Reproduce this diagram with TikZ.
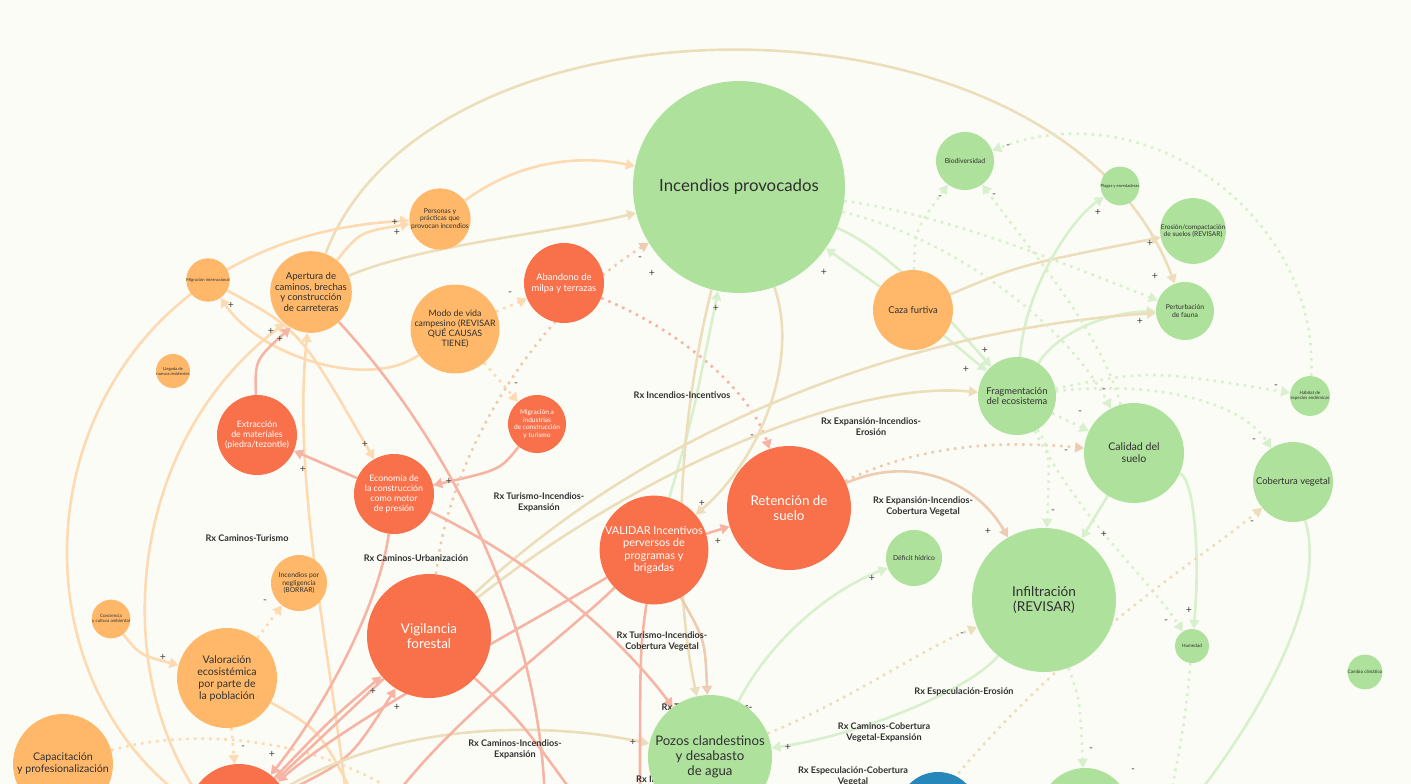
\documentclass[tikz,border=0pt]{standalone}
\usepackage{fontspec}
\setmainfont{Lato}
\usetikzlibrary{arrows.meta}
\pgfdeclarelayer{bglayer}
\pgfdeclarelayer{edges}
\pgfdeclarelayer{labels}
\pgfsetlayers{bglayer,edges,labels,main}
\definecolor{bg}{HTML}{FCFCF7}
\definecolor{gfill}{HTML}{AEE19B}
\definecolor{ofill}{HTML}{FFB869}
\definecolor{rfill}{HTML}{F9714A}
\definecolor{bfill}{HTML}{2688BA}
\definecolor{txt}{HTML}{303030}
\definecolor{ge}{HTML}{D8F0CD}
\definecolor{oe}{HTML}{FDDAB2}
\definecolor{re}{HTML}{F6B5A4}
\definecolor{te}{HTML}{EDDEBB}
\definecolor{rge}{HTML}{EDCCB2}
\definecolor{signc}{HTML}{444444}
\newcommand{\myfs}[2]{\fontsize{#1}{#2}\selectfont}
\begin{document}
\begin{tikzpicture}[x=1pt,y=-1pt,
  nd/.style={circle, inner sep=0pt, align=center, text=txt},
  gnode/.style={nd, fill=gfill},
  onode/.style={nd, fill=ofill},
  rnode/.style={nd, fill=rfill, text=white},
  E/.style={line width=2.6pt, -{Triangle[length=9pt,width=10pt]}},
  D/.style={E, dash pattern=on 2.6pt off 5pt},
  sg/.style={font=\myfs{10.5}{10.5}, text=signc, inner sep=0pt},
  rx/.style={font=\bfseries\myfs{9.1}{11}, align=center, text=txt, inner sep=0pt}]
\begin{pgfonlayer}{bglayer}
\fill[bg] (0,0) rectangle (1411,784);
\end{pgfonlayer}
\useasboundingbox (0,0) rectangle (1411,784);
\clip (0,0) rectangle (1411,784);

% ---------- nodes
% green
\node[gnode, minimum size=212pt, font=\myfs{16.8}{20}] (ip) at (739,187) {Incendios provocados};
\node[gnode, minimum size=58pt, font=\myfs{6.8}{8}] (bio) at (965,161) {Biodiversidad};
\node[gnode, minimum size=34pt, font=\myfs{4.2}{5}] (pla) at (1120,186) {Plagas y enredaderas};
\node[gnode, minimum size=56pt, font=\myfs{6.6}{7.6}] (ero) at (1193,231) {Erosión/compactación\\de suelos (REVISAR)};
\node[gnode, minimum size=58pt, font=\myfs{6.8}{8}] (per) at (1185,311) {Perturbación\\de fauna};
\node[gnode, minimum size=34pt, font=\myfs{4.5}{5.4}] (hab) at (1310,396) {Hábitat de\\especies endémicas};
\node[gnode, minimum size=78pt, font=\myfs{9.4}{10.5}] (fra) at (1017,396) {Fragmentación\\del ecosistema};
\node[gnode, minimum size=100pt, font=\myfs{10.6}{12}] (cal) at (1134,453) {Calidad del\\suelo};
\node[gnode, minimum size=80pt, font=\myfs{9.4}{11}] (cob) at (1293,482) {Cobertura vegetal};
\node[gnode, minimum size=144pt, font=\myfs{13.6}{15}] (inf) at (1044,600) {Infiltración\\(REVISAR)};
\node[gnode, minimum size=56pt, font=\myfs{6.8}{8}] (def) at (914,558) {Déficit hídrico};
\node[gnode, minimum size=34pt, font=\myfs{4.6}{5.5}] (hum) at (1192,646) {Humedad};
\node[gnode, minimum size=34pt, font=\myfs{4.6}{5.5}] (cc) at (1365,672) {Cambio climático};
\node[gnode, minimum size=124pt, font=\myfs{13.2}{15}] (poz) at (710,757) {Pozos clandestinos\\y desabasto\\de agua};
\node[gnode, minimum size=90pt] (gb) at (1085,813) {};
\node[nd, fill=bfill, minimum size=80pt] (blu) at (938,812) {};
% orange
\node[onode, minimum size=80pt, font=\myfs{9.4}{10.5}] (caz) at (913,310) {Caza furtiva};
\node[onode, minimum size=58pt, font=\myfs{6.8}{7.6}] (pers) at (440,219) {Personas y\\prácticas que\\provocan incendios};
\node[onode, minimum size=80pt, font=\myfs{9.6}{10.8}] (ape) at (311,292) {Apertura de\\caminos, brechas\\y construcción\\de carreteras};
\node[onode, minimum size=80pt, font=\myfs{8.8}{9.8}] (mod) at (455,329) {Modo de vida\\campesino (REVISAR\\QUÉ CAUSAS\\TIENE)};
\node[onode, minimum size=34pt, font=\myfs{4.2}{5}] (mint) at (208,280) {Migración internacional};
\node[onode, minimum size=34pt, font=\myfs{4.2}{5}] (lle) at (173,371) {Llegada de\\nuevos residentes};
\node[onode, minimum size=56pt, font=\myfs{6.8}{7.6}] (neg) at (299,583) {Incendios por\\negligencia\\(BORRAR)};
\node[onode, minimum size=34pt, font=\myfs{4.5}{5.4}] (con) at (111,619) {Conciencia\\y cultura ambiental};
\node[onode, minimum size=100pt, font=\myfs{10.6}{12}] (valo) at (227,678) {Valoración\\ecosistémica\\por parte de\\la población};
\node[onode, minimum size=100pt, font=\myfs{10.6}{12}] (cap) at (63,764) {Capacitación\\y profesionalización};
% red
\node[rnode, minimum size=124pt, font=\myfs{13.4}{15}] (ret) at (789,508) {Retención de\\suelo};
\node[rnode, minimum size=102pt, font=\myfs{11}{12.6}] (val) at (654,550) {VALIDAR Incentivos\\perversos de\\programas y\\brigadas};
\node[rnode, minimum size=124pt, font=\myfs{13.4}{15}] (vig) at (429,636) {Vigilancia\\forestal};
\node[rnode, minimum size=80pt, font=\myfs{9.4}{11}] (aba) at (564,283) {Abandono de\\milpa y terrazas};
\node[rnode, minimum size=58pt, font=\myfs{6.6}{7.6}] (mig) at (537,424) {Migración a\\industrias\\de construcción\\y turismo};
\node[rnode, minimum size=80pt, font=\myfs{8.8}{9.8}] (eco) at (394,494) {Economía de\\la construcción\\como motor\\de presión};
\node[rnode, minimum size=80pt, font=\myfs{8.8}{9.8}] (ext) at (257,435) {Extracción\\de materiales\\(piedra/tezontle)};
\node[rnode, minimum size=102pt] (rb) at (239,815) {};

% ---------- coordinates off canvas
\coordinate (o3) at (420,810);
\coordinate (o4) at (1185,810);
\coordinate (o5) at (1168,810);
\coordinate (o6) at (925,815);
\coordinate (o7) at (585,810);
\coordinate (o8) at (545,810);
\coordinate (o9) at (385,810);
\coordinate (o10) at (640,815);
\coordinate (o11) at (348,812);
\coordinate (o12) at (362,812);

% ---------- edges
\begin{pgfonlayer}{edges}
% top big arc
\draw[E, draw=te] (ape) .. controls (430,-22) and (1060,-22) .. (per);
% left arcs
\draw[E, draw=oe] (rb.165) .. controls (-25,650) and (40,240) .. (pers);
\draw[E, draw=oe] (rb.150) .. controls (110,660) and (130,440) .. (ape.230);
\draw[E, draw=oe] (o11) .. controls (330,650) and (292,480) .. (ape.265);
\draw[E, draw=oe] (ape) .. controls (360,232) .. (pers);
\draw[E, draw=oe] (pers) .. controls (520,160) and (580,155) .. (ip);
\draw[E, draw=te] (ape) .. controls (420,245) and (560,232) .. (ip);
\draw[E, draw=oe] (mint) .. controls (300,330) .. (eco);
\draw[E, draw=oe] (mod) .. controls (370,390) and (262,358) .. (mint);
\draw[E, draw=re] (ext) .. controls (255,360) .. (ape.240);
\draw[E, draw=re] (eco) -- (ext);
\draw[E, draw=re] (mig) .. controls (500,470) .. (eco);
\draw[D, draw=oe] (mod) -- (aba);
\draw[D, draw=oe] (mod) -- (mig);
\draw[D, draw=re] (aba) .. controls (680,330) and (750,390) .. (ret);
\draw[D, draw=rge] (vig) .. controls (450,450) and (540,310) .. (ip);
\draw[E, draw=re] (val) -- (ret);
\draw[E, draw=ge] (val) .. controls (692,420) .. (ip);
\draw[E, draw=te] (ip) .. controls (800,360) and (760,460) .. (val);
\draw[E, draw=te] (ip.255) .. controls (672,450) and (676,600) .. (poz);
\draw[E, draw=rge] (val) .. controls (705,640) .. (poz);
\draw[E, draw=rge] (ret) .. controls (910,455) and (975,480) .. (inf);
\draw[D, draw=rge] (ret) .. controls (920,445) and (1000,440) .. (cal);
% caza / fragmentacion
\draw[E, draw=ge] (caz) -- (ip);
\draw[E, draw=ge] (ip) .. controls (890,250) and (950,320) .. (fra);
\draw[E, draw=ge] (caz) -- (fra);
\draw[E, draw=te] (caz) .. controls (1020,265) .. (ero);
\draw[E, draw=ge] (fra) .. controls (1025,290) and (1070,220) .. (pla);
\draw[E, draw=ge] (fra) .. controls (1060,330) and (1110,312) .. (per);
\draw[E, draw=te] (vig) .. controls (650,430) and (900,330) .. (per);
\draw[E, draw=te] (vig) .. controls (640,470) and (850,380) .. (fra);
% dotted green
\draw[D, draw=ge] (caz) .. controls (915,230) .. (bio);
\draw[D, draw=ge] (cal) .. controls (1100,330) and (1030,250) .. (bio);
\draw[D, draw=ge] (hab) .. controls (1320,220) and (1150,90) .. (bio);
\draw[D, draw=ge] (ip) .. controls (950,215) and (1080,270) .. (per);
\draw[D, draw=ge] (ip) .. controls (960,240) and (1070,330) .. (cal);
\draw[D, draw=ge] (fra) .. controls (1150,370) .. (hab);
\draw[D, draw=ge] (fra) -- (cal);
\draw[D, draw=ge] (fra) .. controls (1150,380) and (1240,400) .. (cob);
\draw[D, draw=ge] (fra) .. controls (1050,450) .. (inf);
\draw[D, draw=ge] (fra) .. controls (1080,520) and (1150,580) .. (hum);
\draw[E, draw=ge] (cal) -- (inf);
\draw[E, draw=ge] (cal) .. controls (1195,480) and (1200,560) .. (hum);
\draw[E, draw=ge] (cob) .. controls (1330,600) and (1250,730) .. (o4);
\draw[E, draw=ge] (poz) .. controls (770,640) and (830,590) .. (def);
\draw[E, draw=ge] (inf) .. controls (970,690) and (860,735) .. (poz);
\draw[D, draw=te] (poz) .. controls (850,700) and (920,650) .. (inf);
\draw[D, draw=ge] (hum) .. controls (1185,720) .. (o5);
\draw[D, draw=ge] (inf) .. controls (1080,700) .. (gb);
\draw[D, draw=te] (o6) .. controls (1050,650) and (1200,560) .. (cob);
% bottom-left cluster
\draw[D, draw=oe] (valo) -- (neg);
\draw[E, draw=oe] (con) .. controls (140,655) .. (valo);
\draw[D, draw=oe] (valo) -- (rb);
\draw[E, draw=oe] (valo) .. controls (320,730) .. (o12);
\draw[D, draw=oe] (cap) .. controls (200,725) and (330,740) .. (o3);
\draw[E, draw=re] (val) .. controls (500,640) and (350,720) .. (rb);
\draw[E, draw=re] (eco) .. controls (380,600) and (330,700) .. (rb);
\draw[E, draw=re] (vig) -- (rb);
\draw[E, draw=re] (rb) .. controls (330,720) .. (vig);
\draw[E, draw=re] (rb) .. controls (350,760) .. (vig);
\draw[E, draw=te] (rb) .. controls (400,720) and (550,722) .. (poz);
\draw[E, draw=re] (vig) .. controls (520,720) .. (o7);
\draw[E, draw=re] (eco) .. controls (550,570) and (630,650) .. (poz);
\draw[E, draw=re] (ape) .. controls (430,420) and (540,600) .. (o8);
\draw[E, draw=re] (val) .. controls (560,640) and (450,720) .. (o9);
\draw[E, draw=re] (val) .. controls (640,650) .. (o10);
\end{pgfonlayer}

% ---------- labels
\begin{pgfonlayer}{labels}
\node[rx] (l1) at (682,395) {Rx Incendios-Incentivos};
\node[rx] (l2) at (871,427) {Rx Expansión-Incendios-\\Erosión};
\node[rx] (l3) at (539,502) {Rx Turismo-Incendios-\\Expansión};
\node[rx] (l4) at (923,506) {Rx Expansión-Incendios-\\Cobertura Vegetal};
\node[rx] (l5) at (247,538) {Rx Caminos-Turismo};
\node[rx] (l6) at (416,558) {Rx Caminos-Urbanización};
\node[rx] (l7) at (662,641) {Rx Turismo-Incendios-\\Cobertura Vegetal};
\node[rx] (l8) at (964,692) {Rx Especulación-Erosión};
\node[rx] (l9) at (884,732) {Rx Caminos-Cobertura\\Vegetal-Expansión};
\node[rx] (l10) at (853,776) {Rx Especulación-Cobertura\\Vegetal};
\node[rx] (l11) at (515,749) {Rx Caminos-Incendios-\\Expansión};
\node[rx] (l12) at (707,707) {Rx Turismo-Incendios-};
\node[rx, anchor=west] (l13) at (636,779) {Rx Incendios-};
% signs
\node[sg] (s1) at (395,222) {+};
\node[sg] (s2) at (397,232) {+};
\node[sg] (s3) at (231,305) {+};
\node[sg] (s4) at (280,339) {+};
\node[sg] (s5) at (271,331) {+};
\node[sg] (s6) at (510,294) {-};
\node[sg] (s7) at (516,385) {-};
\node[sg] (s8) at (640,259) {-};
\node[sg] (s9) at (652,273) {+};
\node[sg] (s10) at (716,308) {+};
\node[sg] (s11) at (824,272) {+};
\node[sg] (s12) at (752,437) {-};
\node[sg] (s13) at (365,444) {+};
\node[sg] (s14) at (303,469) {+};
\node[sg] (s15) at (449,481) {+};
\node[sg] (s16) at (702,503) {+};
\node[sg] (s17) at (718,541) {+};
\node[sg] (s18) at (985,350) {+};
\node[sg] (s19) at (966,369) {+};
\node[sg] (s20) at (1098,212) {+};
\node[sg] (s21) at (1150,243) {+};
\node[sg] (s22) at (1155,276) {+};
\node[sg] (s23) at (1140,321) {+};
\node[sg] (s25) at (940,198) {-};
\node[sg] (s26) at (994,196) {-};
\node[sg] (s27) at (1008,147) {-};
\node[sg] (s28) at (1104,391) {-};
\node[sg] (s29) at (1080,413) {-};
\node[sg] (s30) at (1066,452) {-};
\node[sg] (s31) at (1276,387) {-};
\node[sg] (s32) at (1254,441) {-};
\node[sg] (s33) at (1053,512) {-};
\node[sg] (s34) at (1166,622) {-};
\node[sg] (s35) at (988,531) {+};
\node[sg] (s36) at (1104,534) {+};
\node[sg] (s37) at (1189,610) {+};
\node[sg] (s38) at (1252,523) {-};
\node[sg] (s39) at (872,578) {+};
\node[sg] (s40) at (962,635) {-};
\node[sg] (s41) at (788,747) {+};
\node[sg] (s42) at (633,742) {+};
\node[sg] (s43) at (1091,750) {-};
\node[sg] (s44) at (1133,771) {-};
\node[sg] (s45) at (265,602) {-};
\node[sg] (s46) at (163,657) {+};
\node[sg] (s47) at (243,748) {-};
\node[sg] (s48) at (272,754) {+};
\node[sg] (s49) at (373,691) {+};
\node[sg] (s50) at (397,707) {+};
\end{pgfonlayer}
\end{tikzpicture}
\end{document}
